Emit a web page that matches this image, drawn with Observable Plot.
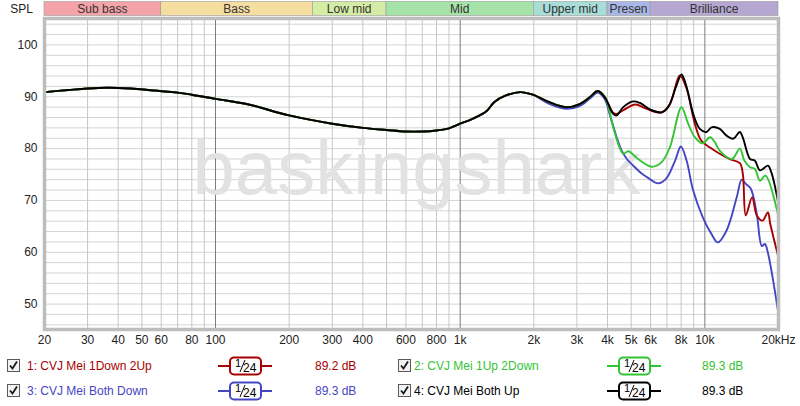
<!DOCTYPE html>
<html><head><meta charset="utf-8">
<script src="https://cdn.jsdelivr.net/npm/d3@7"></script>
<script src="https://cdn.jsdelivr.net/npm/@observablehq/plot@0.6"></script>
<style>
body{margin:0;background:#fff;}
#wrap{position:relative;width:800px;height:406px;background:#fff;font-family:"Liberation Sans",Arial,sans-serif;overflow:hidden;}
#chart svg{display:block;}
#legend{position:absolute;left:0;top:350px;width:800px;height:56px;font-size:12px;}
.it{position:absolute;height:20px;line-height:20px;white-space:nowrap;}
</style></head><body>
<div id="wrap"><div id="chart"></div><div id="legend"></div></div>
<script>
// shared low/mid part (Hz, dB)
const baseFreq = [20, 25, 30, 36, 45, 56, 70, 80, 100, 134, 200, 300, 400, 500, 600, 700, 800, 900, 1000, 1140, 1280, 1380, 1530, 1760, 1980];
const baseSpl  = [90.9, 91.3, 91.6, 91.75, 91.6, 91.2, 90.8, 90.4, 89.6, 88.6, 86.4, 84.8, 84.0, 83.6, 83.3, 83.3, 83.5, 83.9, 84.8, 85.9, 87.2, 89.0, 90.2, 90.9, 90.4];

// series 1: CVJ Mei 1Down 2Up
const s1Freq = [2300, 2700, 3080, 3400, 3650, 3900, 4220, 4360, 4640, 5200, 5750, 6660, 7200, 7900, 8420, 9100, 9650, 10500, 11500, 12600, 13900, 14300, 14700, 15600, 16300, 17200, 18100, 18500, 20000];
const s1Spl  = [89.0, 88.0, 88.6, 90.0, 91.1, 89.9, 86.9, 86.7, 87.4, 88.5, 87.7, 87.0, 88.6, 94.1, 91.6, 84.8, 81.6, 80.2, 79.0, 78.0, 77.2, 75.1, 67.1, 70.6, 67.1, 66.1, 67.7, 65.5, 59.0];
// series 2: CVJ Mei 1Up 2Down
const s2Freq = [2300, 2700, 3080, 3400, 3650, 3910, 4220, 4500, 4640, 4870, 5330, 6060, 6660, 7200, 8030, 8500, 9100, 9800, 10500, 11000, 11500, 12900, 13900, 14500, 15300, 16000, 16800, 17700, 20000];
const s2Spl  = [89.0, 88.0, 88.6, 90.0, 91.1, 89.9, 84.1, 80.0, 79.0, 79.5, 78.0, 76.5, 77.4, 80.3, 88.0, 85.1, 82.2, 81.0, 82.2, 81.2, 79.6, 78.0, 80.0, 77.7, 76.4, 76.1, 73.8, 74.8, 66.8];
// series 3: CVJ Mei Both Down
const s3Freq = [2300, 2700, 3080, 3400, 3650, 3900, 4080, 4360, 4570, 4800, 5100, 5550, 5800, 6450, 6950, 7560, 7980, 8420, 8960, 9800, 10650, 11300, 12270, 13500, 14150, 14700, 15400, 16300, 17100, 17600, 18100, 20000];
const s3Spl  = [88.7, 87.7, 88.2, 89.7, 90.8, 89.5, 86.7, 82.2, 79.6, 78.0, 76.7, 75.1, 74.5, 73.3, 74.2, 77.7, 80.4, 77.7, 71.9, 66.8, 63.5, 61.9, 64.2, 70.6, 74.0, 73.2, 72.3, 67.4, 61.2, 61.6, 59.9, 48.1];
// series 4: CVJ Mei Both Up
const s4Freq = [2300, 2700, 3080, 3400, 3650, 3900, 4220, 4360, 4640, 5100, 5430, 6060, 6660, 7080, 7660, 8030, 8420, 8960, 9540, 10160, 10650, 11510, 12270, 13050, 13900, 14300, 15300, 16000, 16800, 18100, 18700, 20000];
const s4Spl  = [89.0, 88.0, 88.6, 90.0, 91.1, 89.9, 86.7, 86.4, 88.0, 89.1, 88.8, 87.4, 87.0, 88.0, 92.2, 94.3, 91.9, 86.7, 83.8, 83.2, 84.1, 83.8, 82.5, 81.9, 83.2, 82.1, 78.0, 77.7, 75.8, 76.7, 75.4, 69.3];

const seriesNames = ["1: CVJ Mei 1Down 2Up", "2: CVJ Mei 1Up 2Down", "3: CVJ Mei Both Down", "4: CVJ Mei Both Up"];
const seriesColors = ["#a80000", "#33c433", "#4646c4", "#000000"];
const seriesAvg = ["89.2 dB", "89.3 dB", "89.3 dB", "89.3 dB"];
const seriesSmoothing = ["1/24", "1/24", "1/24", "1/24"];

const bandNames = ["Sub bass", "Bass", "Low mid", "Mid", "Upper mid", "Presen", "Brilliance"];
const bandLo = [20, 60, 250, 500, 2000, 4000, 6000];
const bandHi = [60, 250, 500, 2000, 4000, 6000, 20000];
const bandColors = ["#f4a3a8", "#f6dda0", "#d5eca4", "#a6e3a8", "#a8ddd8", "#a8b7e6", "#b6a6d2"];

const xTickValues = [20, 30, 40, 50, 60, 80, 100, 200, 300, 400, 600, 800, 1000, 2000, 3000, 4000, 5000, 6000, 8000, 10000, 20000];
const xTickLabels = ["20", "30", "40", "50", "60", "80", "100", "200", "300", "400", "600", "800", "1k", "2k", "3k", "4k", "5k", "6k", "8k", "10k", "20kHz"];
const yTickValues = [50, 60, 70, 80, 90, 100];

const freqs = [s1Freq, s2Freq, s3Freq, s4Freq];
const spls = [s1Spl, s2Spl, s3Spl, s4Spl];
function seriesRows(i) {
  const rows = baseFreq.map((f, j) => ({f, v: baseSpl[j], s: i}));
  freqs[i].forEach((f, j) => rows.push({f, v: spls[i][j], s: i}));
  return rows;
}
const drawOrder = [2, 0, 1, 3];

const minorFreqs = [];
for (const dec of [10, 100, 1000, 10000]) for (let k = 1; k <= 9; k++) { const f = dec * k; if (f >= 20 && f <= 20000 && f !== 100 && f !== 1000 && f !== 10000) minorFreqs.push(f); }
const yGrid = d3.range(46, 105, 2);
const xTicks = xTickValues.map((v, i) => ({v, label: xTickLabels[i]}));

const plot = Plot.plot({
  width: 800, height: 350,
  marginLeft: 44, marginRight: 22, marginTop: 18, marginBottom: 21,
  style: {fontFamily: '"Liberation Sans", Arial, sans-serif', fontSize: "12px", color: "#222", background: "#fff"},
  x: {type: "log", domain: [20, 20000], axis: null},
  y: {domain: [45.1, 105.1], ticks: yTickValues, tickSize: 0, tickPadding: 7, label: null},
  marks: [
    Plot.ruleY(yGrid, {stroke: "#d4d4d4", strokeWidth: 1}),
    Plot.ruleX(minorFreqs, {stroke: "#c6c6c6", strokeWidth: 1}),
    Plot.ruleX([100, 1000, 10000], {stroke: "#7c7c7c", strokeWidth: 1}),
    Plot.text(["baskingshark"], {frameAnchor: "middle", text: d => d, fontSize: 76, fill: "#e2e2e2", dx: 5, dy: -4, fontFamily: '"Liberation Sans", Arial, sans-serif'}),
    ...drawOrder.map(i => Plot.line(seriesRows(i), {x: "f", y: "v", stroke: seriesColors[i], strokeWidth: 1.9, curve: "catmull-rom"})),
    Plot.frame({stroke: "#bdbdbd", strokeWidth: 3.5}),
    Plot.text(xTicks, {x: "v", text: "label", frameAnchor: "bottom", dy: 14, fill: "#222", fontSize: 12})
  ]
});
document.getElementById("chart").appendChild(plot);

// band header drawn with the plot's own x scale
const xs = plot.scale("x");
const svg = d3.select(plot);
const hdr = svg.append("g");
bandNames.forEach((name, i) => {
  const x0 = xs.apply(bandLo[i]), x1 = xs.apply(bandHi[i]);
  hdr.append("rect").attr("x", x0).attr("y", 1.5).attr("width", x1 - x0).attr("height", 14)
    .attr("fill", bandColors[i]).attr("stroke", "#9a9a9a").attr("stroke-width", 0.6);
  hdr.append("text").attr("x", (x0 + x1) / 2).attr("y", 12.5).attr("text-anchor", "middle")
    .attr("font-size", 12).attr("fill", "#333").text(name);
});
svg.append("text").attr("x", 33).attr("y", 12.5).attr("text-anchor", "end").attr("font-size", 12).attr("fill", "#222").text("SPL");

// legend
const legend = document.getElementById("legend");
const cols = [{cb: 7, tx: 27, ic: 218, val: 315}, {cb: 398, tx: 414, ic: 607, val: 702}];
const rowsY = [6, 31];
seriesNames.forEach((name, i) => {
  const c = cols[i % 2], top = rowsY[Math.floor(i / 2)];
  const col = seriesColors[i];
  const cb = document.createElement("div"); cb.className = "it"; cb.style.left = c.cb + "px"; cb.style.top = top + "px";
  cb.innerHTML = '<svg width="13" height="20"><rect x="0.5" y="3.5" width="12" height="12" fill="#f2f2f2" stroke="#5a5a5a"/><path d="M3 9.5 L5.5 12.5 L10 5.5" fill="none" stroke="#1a1a1a" stroke-width="1.8"/></svg>';
  legend.appendChild(cb);
  const t = document.createElement("div"); t.className = "it"; t.style.left = c.tx + "px"; t.style.top = top + "px"; t.style.color = col; t.textContent = name;
  legend.appendChild(t);
  const parts = seriesSmoothing[i].split("/");
  const ic = document.createElement("div"); ic.className = "it"; ic.style.left = c.ic + "px"; ic.style.top = top + "px";
  ic.innerHTML = `<svg width="54" height="20"><line x1="0" x2="54" y1="10" y2="10" stroke="${col}" stroke-width="2"/>` +
    `<rect x="12" y="1.5" width="31" height="17" rx="4" fill="#fff" stroke="${col}" stroke-width="2"/>` +
    `<text x="17" y="11" font-size="11" fill="#000">${parts[0]}</text>` +
    `<line x1="27" y1="4" x2="22" y2="16" stroke="#000" stroke-width="1"/>` +
    `<text x="25" y="16" font-size="12" fill="#000">${parts[1]}</text></svg>`;
  legend.appendChild(ic);
  const v = document.createElement("div"); v.className = "it"; v.style.left = c.val + "px"; v.style.top = top + "px"; v.style.color = col; v.textContent = seriesAvg[i];
  legend.appendChild(v);
});
</script>
</body></html>
